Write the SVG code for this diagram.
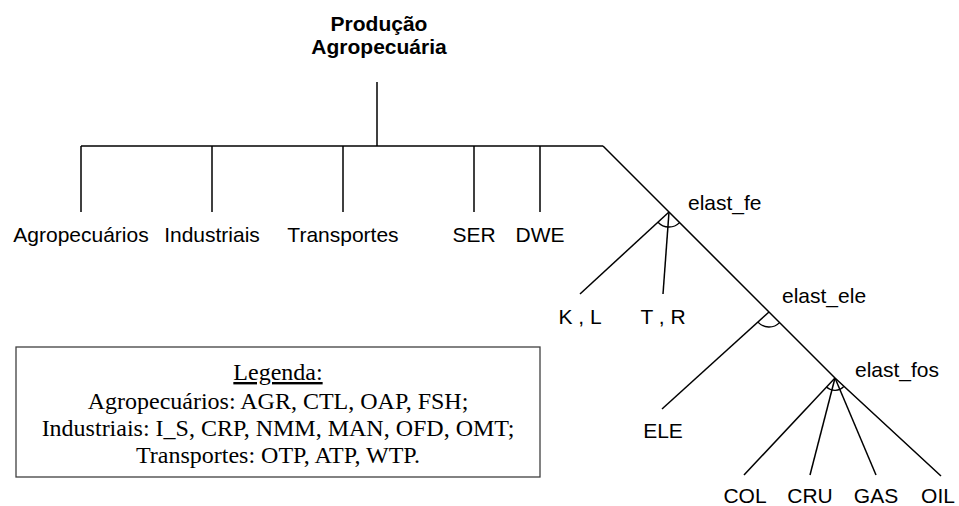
<svg xmlns="http://www.w3.org/2000/svg" width="959" height="506" viewBox="0 0 959 506">
<style>
.ln{stroke:#000;stroke-width:1.5;fill:none;stroke-linecap:butt}
.arc{stroke:#000;stroke-width:1.3;fill:none}
.lb{font-family:"Liberation Sans",Arial,sans-serif;font-size:21px;fill:#000}
.mid{text-anchor:middle}
.ttl{font-family:"Liberation Sans",Arial,sans-serif;font-size:21px;font-weight:bold;fill:#000;text-anchor:middle}
.lg{font-family:"Liberation Serif","Times New Roman",serif;font-size:24px;fill:#000;text-anchor:middle}
</style>
<rect width="959" height="506" fill="#fff"/>
<g id="connectors">
<line class="ln" x1="377" y1="82" x2="377" y2="146"/>
<line class="ln" x1="81" y1="146" x2="603" y2="146"/>
<line class="ln" x1="81" y1="146" x2="81" y2="212"/>
<line class="ln" x1="212" y1="146" x2="212" y2="212"/>
<line class="ln" x1="343" y1="146" x2="343" y2="212"/>
<line class="ln" x1="474" y1="146" x2="474" y2="212"/>
<line class="ln" x1="540" y1="146" x2="540" y2="212"/>
<polyline class="ln" points="603,146 669,212 769,312 835,378 941,476"/>
<line class="ln" x1="669" y1="212" x2="580" y2="294"/>
<line class="ln" x1="669" y1="212" x2="663" y2="294"/>
<line class="ln" x1="769" y1="312" x2="662" y2="409"/>
<line class="ln" x1="835" y1="378" x2="744" y2="475"/>
<line class="ln" x1="835" y1="378" x2="810" y2="475"/>
<line class="ln" x1="835" y1="378" x2="876" y2="475"/>
<path class="arc" d="M679.6,222.6 A15,15 0 0 1 658,222.2"/>
<path class="arc" d="M779.6,322.6 A15,15 0 0 1 757.9,322.1"/>
<path class="arc" d="M843.8,386.5 A12.5,12.5 0 0 1 826.4,387.1"/>
</g>
<g id="root"><text class="ttl" x="379" y="31">Produção</text><text class="ttl" x="379" y="54">Agropecuária</text></g>
<g id="agropecuarios"><text class="lb mid" x="81" y="242">Agropecuários</text></g>
<g id="industriais"><text class="lb mid" x="212" y="242">Industriais</text></g>
<g id="transportes"><text class="lb mid" x="343" y="242">Transportes</text></g>
<g id="ser"><text class="lb mid" x="474" y="242">SER</text></g>
<g id="dwe"><text class="lb mid" x="540" y="242">DWE</text></g>
<g id="elast_fe"><text class="lb" x="688" y="210">elast_fe</text></g>
<g id="kl"><text class="lb mid" x="580" y="324">K , L</text></g>
<g id="tr"><text class="lb mid" x="663" y="324">T , R</text></g>
<g id="elast_ele"><text class="lb" x="782" y="303">elast_ele</text></g>
<g id="ele"><text class="lb mid" x="663" y="438">ELE</text></g>
<g id="elast_fos"><text class="lb" x="855" y="377">elast_fos</text></g>
<g id="col"><text class="lb mid" x="745" y="503">COL</text></g>
<g id="cru"><text class="lb mid" x="810" y="503">CRU</text></g>
<g id="gas"><text class="lb mid" x="876" y="503">GAS</text></g>
<g id="oil"><text class="lb mid" x="938" y="503">OIL</text></g>
<g id="legenda">
<rect x="16" y="347" width="524" height="130" fill="#fff" stroke="#404040" stroke-width="1.3"/>
<text class="lg" x="278" y="380" text-decoration="underline">Legenda:</text>
<text class="lg" x="278" y="409">Agropecuários: AGR, CTL, OAP, FSH;</text>
<text class="lg" x="278" y="436">Industriais: I_S, CRP, NMM, MAN, OFD, OMT;</text>
<text class="lg" x="278" y="463">Transportes: OTP, ATP, WTP.</text>
</g>
</svg>
